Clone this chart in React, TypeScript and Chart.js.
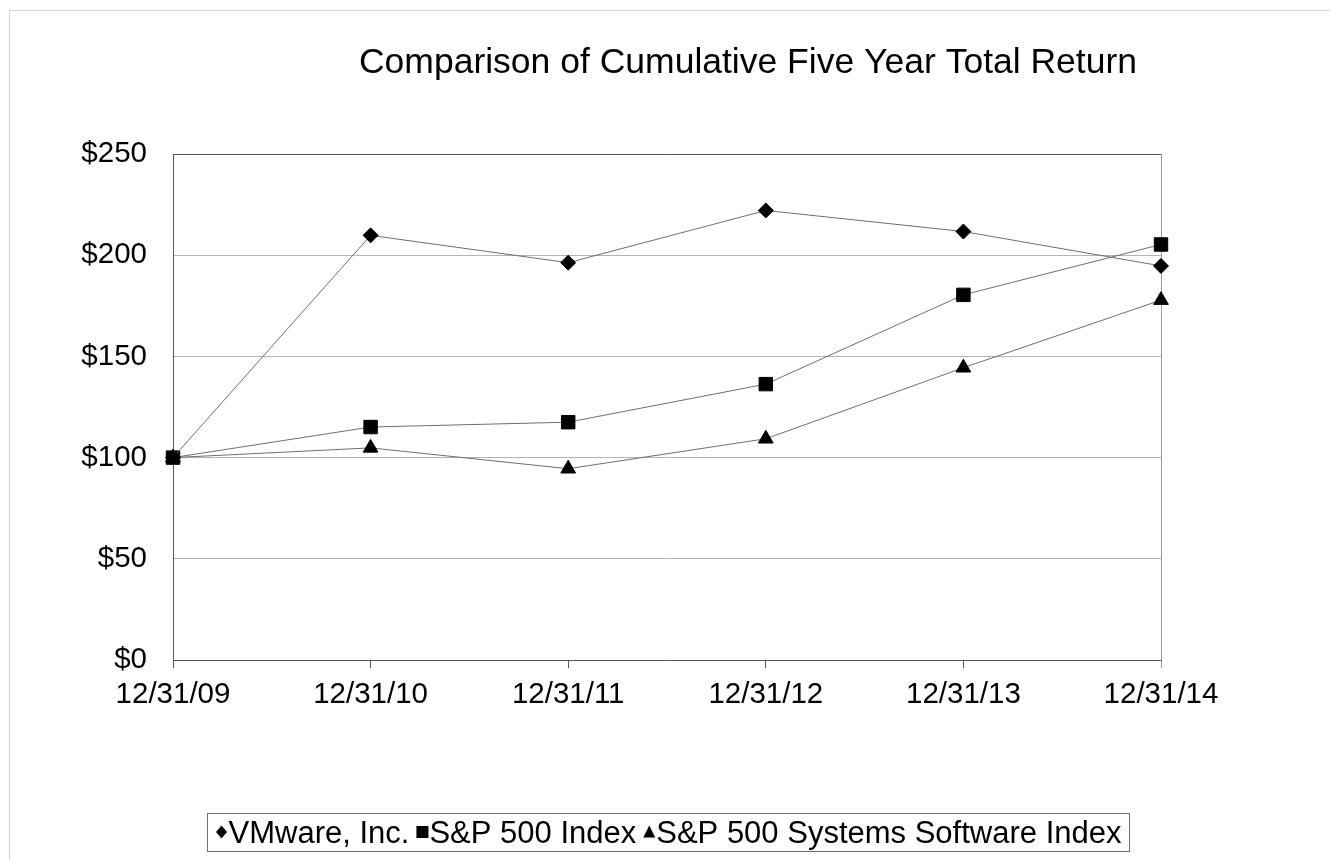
import React, { useEffect, useRef } from 'react';
import { Chart, registerables } from 'chart.js';

Chart.register(...registerables);

const categories = ['12/31/09', '12/31/10', '12/31/11', '12/31/12', '12/31/13', '12/31/14'];
const vmware = [100, 209.8, 196.3, 222.1, 211.7, 194.7];
const sp500 = [100, 115.1, 117.5, 136.3, 180.4, 205.3];
const sysSoftware = [100, 104.8, 94.5, 109.3, 144.4, 177.8];
const yTickValues = [0, 50, 100, 150, 200, 250];
const titleText = 'Comparison of Cumulative Five Year Total Return';
const seriesLabels = ['VMware, Inc.', 'S&P 500 Index', 'S&P 500 Systems Software Index'];
const markerStyles = ['rectRot', 'rect', 'triangle'];

const FONT = "'Liberation Sans', Arial, sans-serif";

function drawMarker(ctx: CanvasRenderingContext2D, style: string, cx: number, cy: number) {
  ctx.beginPath();
  if (style === 'rectRot') {
    ctx.moveTo(cx, cy - 6.5);
    ctx.lineTo(cx + 5.5, cy);
    ctx.lineTo(cx, cy + 6.5);
    ctx.lineTo(cx - 5.5, cy);
  } else if (style === 'rect') {
    ctx.rect(cx - 6, cy - 6, 12, 12);
  } else {
    ctx.moveTo(cx, cy - 6.5);
    ctx.lineTo(cx + 6, cy + 5.5);
    ctx.lineTo(cx - 6, cy + 5.5);
  }
  ctx.closePath();
  ctx.fill();
}

const decorPlugin = {
  id: 'decor',
  beforeDraw(chart: any) {
    const ctx = chart.ctx as CanvasRenderingContext2D;
    ctx.save();
    ctx.strokeStyle = '#d3d3d3';
    ctx.lineWidth = 1;
    ctx.beginPath();
    ctx.moveTo(9.5, 860);
    ctx.lineTo(9.5, 10.5);
    ctx.lineTo(1330, 10.5);
    ctx.stroke();
    ctx.restore();
  },
  afterDraw(chart: any) {
    const ctx = chart.ctx as CanvasRenderingContext2D;
    ctx.save();
    // Title
    ctx.fillStyle = '#000';
    ctx.font = `35.5px ${FONT}`;
    ctx.textAlign = 'center';
    ctx.textBaseline = 'alphabetic';
    ctx.fillText(titleText, 748, 73);

    // Legend
    const boxL = 207.5, boxR = 1129.5, boxT = 813.5, boxB = 851.5;
    ctx.strokeStyle = '#707070';
    ctx.lineWidth = 1;
    ctx.strokeRect(boxL, boxT, boxR - boxL, boxB - boxT);
    ctx.font = `31px ${FONT}`;
    ctx.textAlign = 'left';
    ctx.textBaseline = 'alphabetic';
    const markerW = 12;
    const markerGap = 1;
    const itemGap = 7;
    const widths = seriesLabels.map((l) => ctx.measureText(l).width);
    const total = widths.reduce((a, w) => a + markerW + markerGap + w, 0) + itemGap * (seriesLabels.length - 1);
    let x = (boxL + boxR) / 2 - total / 2;
    const baseline = 843;
    const midY = 832;
    seriesLabels.forEach((label, i) => {
      ctx.fillStyle = '#000';
      drawMarker(ctx, markerStyles[i], x + markerW / 2, midY);
      x += markerW + markerGap;
      ctx.fillText(label, x, baseline);
      x += widths[i] + itemGap;
    });
    ctx.restore();
  },
};

export default function App() {
  const canvasRef = useRef<HTMLCanvasElement | null>(null);

  useEffect(() => {
    if (!canvasRef.current) return;
    const lineColor = '#6e6e6e';
    const mk = (label: string, data: number[], style: string, radius: number) => ({
      label,
      data,
      borderColor: lineColor,
      borderWidth: 1,
      backgroundColor: '#000',
      pointStyle: style,
      pointRadius: radius,
      pointHoverRadius: radius,
      pointBackgroundColor: '#000',
      pointBorderColor: '#000',
      pointBorderWidth: 1,
      tension: 0,
      fill: false,
    });
    const chart = new Chart(canvasRef.current, {
      type: 'line',
      data: {
        labels: categories,
        datasets: [
          mk(seriesLabels[0], vmware, markerStyles[0], 7.5),
          mk(seriesLabels[1], sp500, markerStyles[1], 9.5),
          mk(seriesLabels[2], sysSoftware, markerStyles[2], 8.5),
        ],
      },
      options: {
        responsive: false,
        animation: false,
        events: [],
        layout: { padding: { top: 154, left: 10, right: 169, bottom: 0 } },
        plugins: {
          legend: { display: false },
          title: { display: false },
          tooltip: { enabled: false },
        },
        scales: {
          x: {
            type: 'category',
            offset: false,
            afterFit: (s: any) => {
              s.height = 200;
            },
            border: { display: true, color: '#555', width: 1 },
            grid: {
              drawOnChartArea: true,
              drawTicks: true,
              tickLength: 8,
              color: (c: any) => (c.index === categories.length - 1 ? '#9a9a9a' : 'rgba(0,0,0,0)'),
              tickColor: (c: any) => (c.index === categories.length - 1 ? '#9a9a9a' : '#555'),
            },
            ticks: {
              color: '#000',
              font: { family: FONT, size: 29.5 },
              padding: 9,
              maxRotation: 0,
              autoSkip: false,
            },
          },
          y: {
            min: 0,
            max: 250,
            afterFit: (s: any) => {
              s.width = 163;
            },
            afterBuildTicks: (s: any) => {
              s.ticks = yTickValues.map((v) => ({ value: v }));
            },
            border: { display: true, color: '#555', width: 1 },
            grid: {
              drawTicks: false,
              color: (c: any) => (c.tick && c.tick.value === 250 ? '#555' : '#b4b4b4'),
            },
            ticks: {
              color: '#000',
              font: { family: FONT, size: 29.5 },
              padding: 26,
              callback: (v: any) => '$' + v,
            },
          },
        },
      },
      plugins: [decorPlugin],
    } as any);
    return () => chart.destroy();
  }, []);

  return (
    <div style={{ position: 'absolute', left: 0, top: 0, width: 1330, height: 860, background: '#fff' }}>
      <canvas ref={canvasRef} width={1330} height={860} style={{ display: 'block' }} />
    </div>
  );
}
